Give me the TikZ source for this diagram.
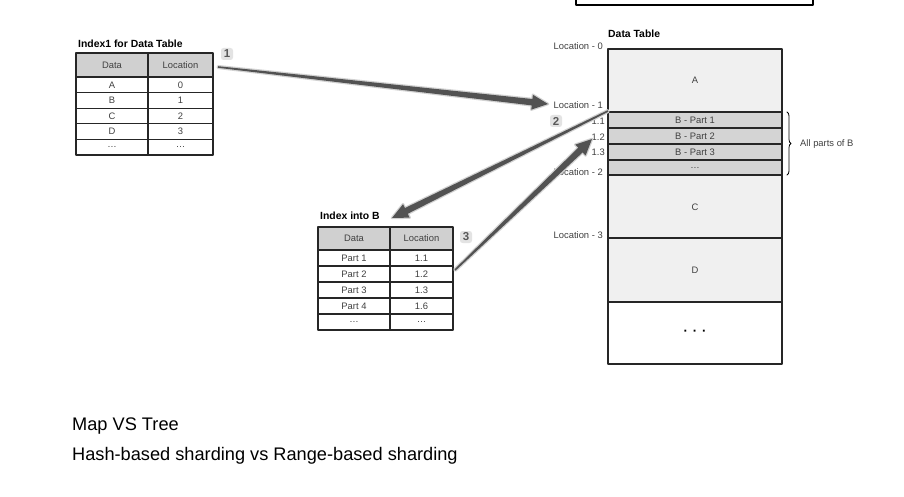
\documentclass[tikz,border=0pt]{standalone}
\usepackage{fontspec}
\setmainfont{Liberation Sans}
\usetikzlibrary{calc,decorations.pathreplacing}

% tapered arrow from #1 (thin end) to #2 (tip)
\newcommand{\taperarrow}[2]{%
  \coordinate (hb) at ($(#2)!16pt!(#1)$);
  \path[arrowbody] ($(#1)!0.8pt!90:(#2)$) -- ($(hb)!3.2pt!90:(#2)$) -- ($(hb)!7.5pt!90:(#2)$)
    -- (#2) -- ($(hb)!7.5pt!-90:(#2)$) -- ($(hb)!3.2pt!-90:(#2)$) -- ($(#1)!0.8pt!-90:(#2)$) -- cycle;}

\begin{document}
\begin{tikzpicture}[x=1pt, y=-1pt, line cap=round, line join=round,
  cell/.style={font=\fontsize{9.4}{11}\selectfont, text=black!75, inner sep=0pt},
  loclabel/.style={font=\fontsize{9.4}{11}\selectfont, text=black!75, anchor=east, inner sep=0pt},
  tabletitle/.style={font=\bfseries\fontsize{10.4}{12}\selectfont, anchor=west, inner sep=0pt},
  grid/.style={line width=1.2pt, black!85},
  badge/.style={fill=gray!22, rounded corners=2.5pt, inner sep=1pt,
    font=\bfseries\fontsize{11.5}{12}\selectfont, text=gray!70!black, minimum size=12pt},
  arrowbody/.style={fill=black!68, preaction={draw=gray!35, line width=2.5pt}},
  caption/.style={font=\fontsize{18.2}{21}\selectfont, anchor=base west, inner sep=0pt}]

\useasboundingbox (0,0) rectangle (904,497);

% --- Box cut off at the top ---
\draw[line width=1.5pt] (576,0) -- (576,5) -- (813,5) -- (813,0);

% --- Index1 for Data Table ---
\node[tabletitle] (idx1title) at (78,44) {Index1 for Data Table};
\fill[gray!37] (76,53) rectangle (213,77);
\draw[grid] (76,53) rectangle (213,155);
\draw[grid] (148,53) -- (148,155);
\foreach \y in {77,92.6,108.2,123.8,139.4}
  \draw[grid] (76,\y) -- (213,\y);
\node[cell] (idx1-h-a) at (112,65) {Data};
\node[cell] (idx1-h-b) at (180.5,65) {Location};
\foreach \k/\l [count=\r] in {A/0,B/1,C/2,D/3,\dots/\dots}{
  \node[cell] (idx1-\r-a) at (112,{77+15.6*(\r-0.5)}) {\k};
  \node[cell] (idx1-\r-b) at (180.5,{77+15.6*(\r-0.5)}) {\l};
}

% --- Data Table ---
\node[tabletitle] (dtitle) at (608,34) {Data Table};
\fill[gray!12] (608,49) rectangle (782,112);
\fill[gray!34] (608,112) rectangle (782,175);
\fill[gray!12] (608,175) rectangle (782,302);
\draw[grid] (608,49) rectangle (782,364);
\foreach \y in {112,128,144,160,175,238,302}
  \draw[grid] (608,\y) -- (782,\y);
\node[cell] (dA) at (695,80) {A};
\node[cell] (dB1) at (695,120) {B - Part 1};
\node[cell] (dB2) at (695,136) {B - Part 2};
\node[cell] (dB3) at (695,152) {B - Part 3};
\node[cell] (dBx) at (695,167.5) {\dots};
\node[cell] (dC) at (695,207) {C};
\node[cell] (dD) at (695,270) {D};
\node[cell, font=\bfseries\fontsize{13}{14}\selectfont, text=black] (dX) at (695,333) {·\hspace{5pt}·\hspace{5pt}·};

% --- Location labels ---
\node[loclabel] (loc0) at (603,46) {Location - 0};
\node[loclabel] (loc1) at (603,105) {Location - 1};
\node[loclabel] (loc2) at (603,172) {Location - 2};
\node[loclabel] (loc3) at (603,235) {Location - 3};
\node[loclabel] (p11) at (605,121) {1.1};
\node[loclabel] (p12) at (605,137) {1.2};
\node[loclabel] (p13) at (605,152) {1.3};

% --- Brace round the parts of B ---
\coordinate (btop) at (787,112);
\coordinate (bbot) at (787,175);
\draw[decorate, decoration={brace, amplitude=4pt}, line width=0.8pt] (btop) -- (bbot);
\node[cell, anchor=west] (allB) at (800,144) {All parts of B};

% --- Index into B ---
\node[tabletitle] (idx2title) at (320,216) {Index into B};
\fill[gray!37] (318,227) rectangle (453,250);
\draw[grid] (318,227) rectangle (453,330);
\draw[grid] (390,227) -- (390,330);
\foreach \y in {250,266,282,298,314}
  \draw[grid] (318,\y) -- (453,\y);
\node[cell] (idx2-h-a) at (354,238.5) {Data};
\node[cell] (idx2-h-b) at (421.5,238.5) {Location};
\foreach \k/\l [count=\r] in {Part 1/1.1,Part 2/1.2,Part 3/1.3,Part 4/1.6,\dots/\dots}{
  \node[cell] (idx2-\r-a) at (354,{250+16*(\r-0.5)}) {\k};
  \node[cell] (idx2-\r-b) at (421.5,{250+16*(\r-0.5)}) {\l};
}

% --- Arrows ---
\coordinate (a1s) at (218,67);
\coordinate (a1e) at (548,104);
\coordinate (a2s) at (608,111);
\coordinate (a2e) at (392,218);
\coordinate (a3s) at (455,270);
\coordinate (a3e) at (592,139);
\taperarrow{a1s}{a1e}
\taperarrow{a2s}{a2e}
\taperarrow{a3s}{a3e}

% --- Step numbers ---
\node[badge] (n1) at (227,54) {1};
\node[badge] (n2) at (556,121) {2};
\node[badge] (n3) at (466,237) {3};

% --- Text below ---
\node[caption] (cap1) at (72,430) {Map VS Tree};
\node[caption] (cap2) at (72,460) {Hash-based sharding vs Range-based sharding};

\end{tikzpicture}
\end{document}
